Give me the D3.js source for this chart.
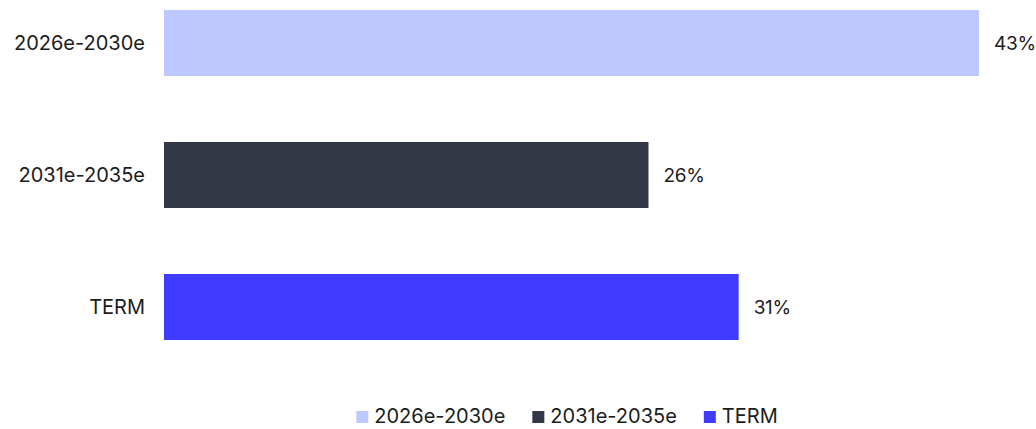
<!DOCTYPE html>
<meta charset="utf-8">
<title>Bars</title>
<style>
body { margin: 0; background: #fff; }
text { font-family: Inter, sans-serif; font-size: 20px; fill: #1c1c1c; }
.val { font-size: 19px; letter-spacing: -0.3px; }
</style>
<body>
<script src="https://cdn.jsdelivr.net/npm/d3@7"></script>
<script>

var categories = ["2026e-2030e", "2031e-2035e", "TERM"];
var values = [43.4, 25.8, 30.6];
var colors = ["#bdc8ff", "#323846", "#403cff"];

var width = 1036, height = 429;

var svg = d3.select("body").append("svg")
    .attr("width", width)
    .attr("height", height);

var x = d3.scaleLinear()
    .domain([0, d3.max(values)])
    .range([164, 979]);

var y = d3.scaleBand()
    .domain(categories)
    .range([10, 340])
    .paddingInner(0.5);

var rows = categories.map(function(c, i) { return {cat: c, value: values[i], color: colors[i]}; });

svg.selectAll(".bar")
    .data(rows)
  .enter().append("rect")
    .attr("class", "bar")
    .attr("x", x(0))
    .attr("y", function(d) { return y(d.cat); })
    .attr("width", function(d) { return x(d.value) - x(0); })
    .attr("height", y.bandwidth())
    .style("fill", function(d) { return d.color; });

svg.selectAll(".cat")
    .data(rows)
  .enter().append("text")
    .attr("class", "cat")
    .attr("x", x(0) - 19)
    .attr("y", function(d) { return y(d.cat) + y.bandwidth() / 2; })
    .attr("dy", ".35em")
    .style("text-anchor", "end")
    .text(function(d) { return d.cat; });

svg.selectAll(".val")
    .data(rows)
  .enter().append("text")
    .attr("class", "val")
    .attr("x", function(d) { return x(d.value) + 15; })
    .attr("y", function(d) { return y(d.cat) + y.bandwidth() / 2; })
    .attr("dy", ".35em")
    .text(function(d) { return d3.format(".0f")(d.value) + "%"; });

// legend, centred under the bars; baseline at the bottom of the squares
var legend = svg.append("g").attr("class", "legend");
var lx = 0;
rows.forEach(function(d) {
  var g = legend.append("g").attr("transform", "translate(" + lx + ",0)");
  g.append("rect")
      .attr("y", -12)
      .attr("width", 12)
      .attr("height", 12)
      .style("fill", d.color);
  var t = g.append("text")
      .attr("x", 18)
      .text(d.cat);
  lx += 18 + t.node().getComputedTextLength() + 27;
});
lx -= 27;
legend.attr("transform", "translate(" + (567 - lx / 2) + ",423)");

</script>
</body>
